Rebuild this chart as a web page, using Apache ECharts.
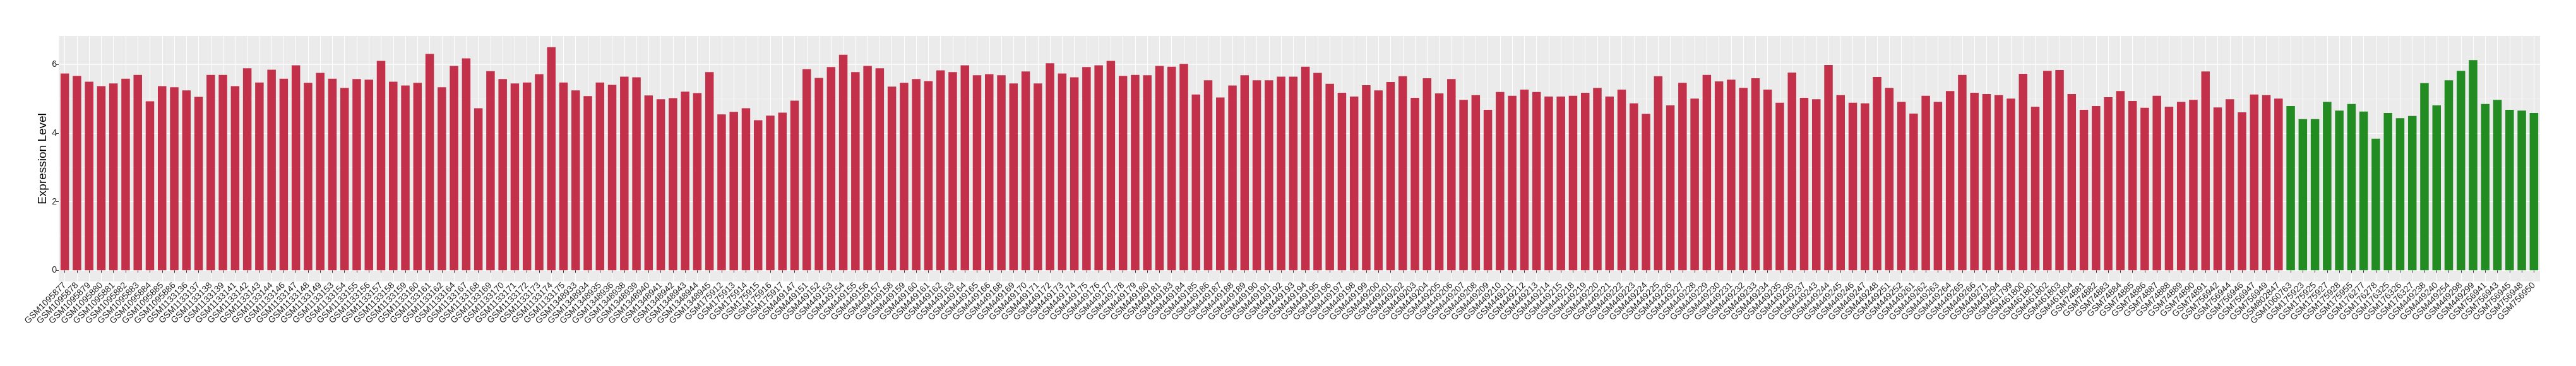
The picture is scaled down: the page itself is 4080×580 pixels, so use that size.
<!DOCTYPE html>
<html>
<head>
<meta charset="utf-8">
<script src="https://cdn.jsdelivr.net/npm/echarts@6/dist/echarts.min.js"></script>
<style>
  html, body { margin: 0; padding: 0; background: #fff; }
  #chart { width: 4080px; height: 580px; }
</style>
</head>
<body>
<div id="chart"></div>
<script>
// tumour samples (red)
const tumorIds = [
  "GSM1095877","GSM1095878","GSM1095879","GSM1095880","GSM1095881","GSM1095882","GSM1095883","GSM1095884","GSM1095885","GSM1095886",
  "GSM1133136","GSM1133137","GSM1133138","GSM1133139","GSM1133141","GSM1133142","GSM1133143","GSM1133144","GSM1133146","GSM1133147",
  "GSM1133148","GSM1133149","GSM1133153","GSM1133154","GSM1133155","GSM1133156","GSM1133157","GSM1133158","GSM1133159","GSM1133160",
  "GSM1133161","GSM1133162","GSM1133164","GSM1133167","GSM1133168","GSM1133169","GSM1133170","GSM1133171","GSM1133172","GSM1133173",
  "GSM1133174","GSM1133175","GSM1348933","GSM1348934","GSM1348935","GSM1348936","GSM1348938","GSM1348939","GSM1348940","GSM1348941",
  "GSM1348942","GSM1348943","GSM1348944","GSM1348945","GSM175912","GSM175913","GSM175914","GSM175915","GSM175916","GSM175917",
  "GSM449147","GSM449151","GSM449152","GSM449153","GSM449154","GSM449155","GSM449156","GSM449157","GSM449158","GSM449159",
  "GSM449160","GSM449161","GSM449162","GSM449163","GSM449164","GSM449165","GSM449166","GSM449168","GSM449169","GSM449170",
  "GSM449171","GSM449172","GSM449173","GSM449174","GSM449175","GSM449176","GSM449177","GSM449178","GSM449179","GSM449180",
  "GSM449181","GSM449183","GSM449184","GSM449185","GSM449186","GSM449187","GSM449188","GSM449189","GSM449190","GSM449191",
  "GSM449192","GSM449193","GSM449194","GSM449195","GSM449196","GSM449197","GSM449198","GSM449199","GSM449200","GSM449201",
  "GSM449202","GSM449203","GSM449204","GSM449205","GSM449206","GSM449207","GSM449208","GSM449209","GSM449210","GSM449211",
  "GSM449212","GSM449213","GSM449214","GSM449215","GSM449218","GSM449219","GSM449220","GSM449221","GSM449222","GSM449223",
  "GSM449224","GSM449225","GSM449226","GSM449227","GSM449228","GSM449229","GSM449230","GSM449231","GSM449232","GSM449233",
  "GSM449234","GSM449235","GSM449236","GSM449237","GSM449243","GSM449244","GSM449245","GSM449246","GSM449247","GSM449248",
  "GSM449251","GSM449252","GSM449261","GSM449262","GSM449263","GSM449264","GSM449265","GSM449266","GSM449271","GSM449294",
  "GSM461799","GSM461800","GSM461801","GSM461802","GSM461803","GSM461804","GSM74881","GSM74882","GSM74883","GSM74884",
  "GSM74885","GSM74886","GSM74887","GSM74888","GSM74889","GSM74890","GSM74891","GSM756942","GSM756944","GSM756946",
  "GSM756947","GSM756949","GSM802847"
];
const tumorValues = [
  5.74,5.67,5.50,5.37,5.45,5.59,5.70,4.93,5.37,5.34,
  5.25,5.06,5.70,5.70,5.37,5.89,5.48,5.85,5.59,5.98,
  5.47,5.76,5.59,5.32,5.58,5.56,6.11,5.50,5.39,5.47,
  6.31,5.34,5.96,6.18,4.73,5.81,5.58,5.45,5.48,5.72,
  6.51,5.48,5.25,5.08,5.48,5.41,5.65,5.63,5.10,4.99,
  5.02,5.21,5.17,5.78,4.55,4.62,4.73,4.38,4.51,4.60,
  4.95,5.87,5.61,5.93,6.29,5.78,5.96,5.89,5.36,5.47,
  5.58,5.52,5.83,5.78,5.98,5.69,5.72,5.69,5.45,5.80,
  5.45,6.04,5.74,5.63,5.93,5.98,6.11,5.67,5.70,5.69,
  5.96,5.94,6.02,5.13,5.54,5.04,5.39,5.69,5.54,5.54,
  5.65,5.65,5.94,5.76,5.44,5.18,5.07,5.40,5.25,5.49,
  5.66,5.03,5.60,5.16,5.58,4.97,5.11,4.68,5.20,5.09,
  5.27,5.20,5.07,5.07,5.09,5.18,5.32,5.07,5.27,4.87,
  4.56,5.66,4.81,5.47,5.01,5.70,5.51,5.56,5.32,5.60,
  5.27,4.89,5.77,5.03,4.99,5.99,5.11,4.89,4.87,5.64,
  5.32,4.91,4.57,5.09,4.91,5.23,5.70,5.18,5.14,5.11,
  5.01,5.73,4.77,5.82,5.84,5.14,4.68,4.79,5.05,5.23,
  4.94,4.74,5.09,4.77,4.91,4.97,5.80,4.75,4.99,4.61,
  5.13,5.11,5.01
];

// normal samples (green)
const normalIds = [
  "GSM1060763","GSM175923","GSM175925","GSM175927","GSM175928","GSM175955","GSM176277","GSM176278","GSM176325","GSM176326",
  "GSM176327","GSM449238","GSM449240","GSM449254","GSM449298","GSM449299","GSM756941","GSM756943","GSM756945","GSM756948",
  "GSM756950"
];
const normalValues = [
  4.79,4.41,4.41,4.91,4.66,4.85,4.63,3.84,4.59,4.44,
  4.50,5.46,4.81,5.54,5.82,6.13,4.85,4.97,4.68,4.66,
  4.59
];

const yTicks = [0, 2, 4, 6];

const TUMOR_COLOR = "#C3304A";
const NORMAL_COLOR = "#228B22";

const categories = tumorIds.concat(normalIds);
const barData = tumorValues
  .map((v) => ({ value: v, itemStyle: { color: TUMOR_COLOR } }))
  .concat(normalValues.map((v) => ({ value: v, itemStyle: { color: NORMAL_COLOR } })));

// ggplot style 5% expansion around [0, max]
const dataMax = Math.max(...tumorValues, ...normalValues);
const yMin = -0.05 * dataMax;
const yMax = dataMax * 1.05;

const chart = echarts.init(document.getElementById("chart"), null, { renderer: "canvas" });
chart.setOption({
  animation: false,
  textStyle: { fontFamily: "Liberation Sans, Arial, sans-serif" },
  grid: {
    left: 93,
    right: 57,
    top: 57,
    bottom: 134,
    show: true,
    backgroundColor: "#EBEBEB",
    borderWidth: 0,
  },
  xAxis: {
    type: "category",
    data: categories,
    axisLine: { show: false },
    axisTick: { show: true, alignWithLabel: true, length: 4, lineStyle: { color: "#333333", width: 1 } },
    axisLabel: {
      interval: 0,
      rotate: 45,
      fontSize: 14,
      color: "#222222",
      margin: 4,
    },
    splitLine: { show: true, alignWithLabel: true, lineStyle: { color: "#FFFFFF", width: 1 } },
  },
  yAxis: {
    type: "value",
    min: yMin,
    max: yMax,
    splitNumber: 4,
    name: "Expression Level",
    nameLocation: "middle",
    nameGap: 16,
    nameMoveOverlap: false,
    nameTextStyle: { fontSize: 19, color: "#000000" },
    axisLine: { show: false },
    axisTick: { show: true, length: 4, customValues: yTicks, lineStyle: { color: "#333333" } },
    axisLabel: { customValues: yTicks, fontSize: 14, color: "#222222", margin: 3 },
    splitLine: { show: true, lineStyle: { color: "#FFFFFF", width: 1.2 } },
    minorTick: { show: false, splitNumber: 2 },
    minorSplitLine: { show: true, lineStyle: { color: "#F5F5F5", width: 0.8 } },
  },
  series: [
    {
      type: "bar",
      barCategoryGap: "30%",
      data: barData,
    },
  ],
});
</script>
</body>
</html>
